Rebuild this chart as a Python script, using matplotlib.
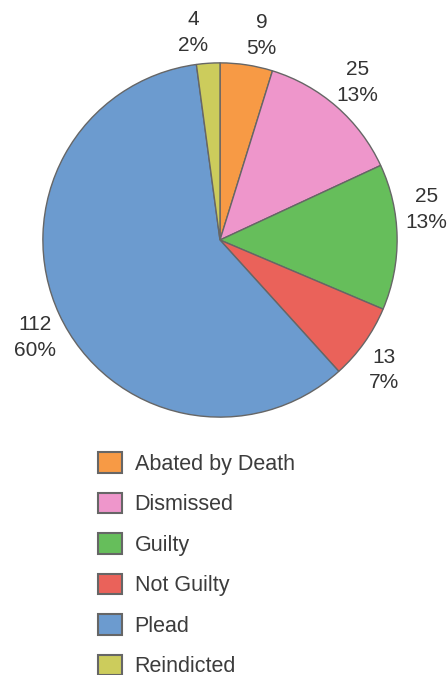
import matplotlib
matplotlib.use("Agg")
import numpy as np
import matplotlib.pyplot as plt
from matplotlib.patches import Patch

categories = ["Abated by Death", "Dismissed", "Guilty", "Not Guilty", "Plead", "Reindicted"]
values = [9, 25, 25, 13, 112, 4]
colors = ["#F79A45", "#EE96CB", "#66BE5B", "#EA625A", "#6C9BCF", "#CCCC5C"]
# small angular nudges (degrees) used by the original renderer to keep labels apart
label_nudge = [-2.8, 0.0, 7.5, -3.0, 3.0, 3.6]

plt.rcParams['font.family'] = ['Liberation Sans', 'DejaVu Sans']
W, H = 447, 675
fig = plt.figure(figsize=(W / 100, H / 100), dpi=100)

cx, cy, r = 220, 240, 178
ax = fig.add_axes([(cx - r) / W, (H - cy - r) / H, 2 * r / W, 2 * r / H])
total = sum(values)

wedges, _ = ax.pie(
    values, colors=colors, startangle=90, counterclock=False, radius=1,
    wedgeprops=dict(edgecolor="#666666", linewidth=1.0))

for w, v, nd in zip(wedges, values, label_nudge):
    ang = np.deg2rad((w.theta1 + w.theta2) / 2 + nd)
    d = 1.18
    ax.text(d * np.cos(ang), d * np.sin(ang), f"{v}\n{v / total * 100:.0f}%",
            ha='center', va='center', fontsize=15, color="#333333",
            linespacing=1.45, clip_on=False)

ax.set_xlim(-1.005, 1.005)
ax.set_ylim(-1.005, 1.005)
ax.set_aspect('equal')
ax.axis('off')

handles = [Patch(facecolor=c, edgecolor="#666666", linewidth=1.5) for c in colors]
fig.legend(handles, categories, loc='upper left',
           bbox_to_anchor=(98 / W, 1 - 452 / H), borderaxespad=0, borderpad=0,
           frameon=False, fontsize=15.5, labelcolor="#3C3C3C",
           handlelength=1.1, handleheight=1.1, handletextpad=0.6,
           labelspacing=0.83)

fig.savefig("out.png", dpi=100)
